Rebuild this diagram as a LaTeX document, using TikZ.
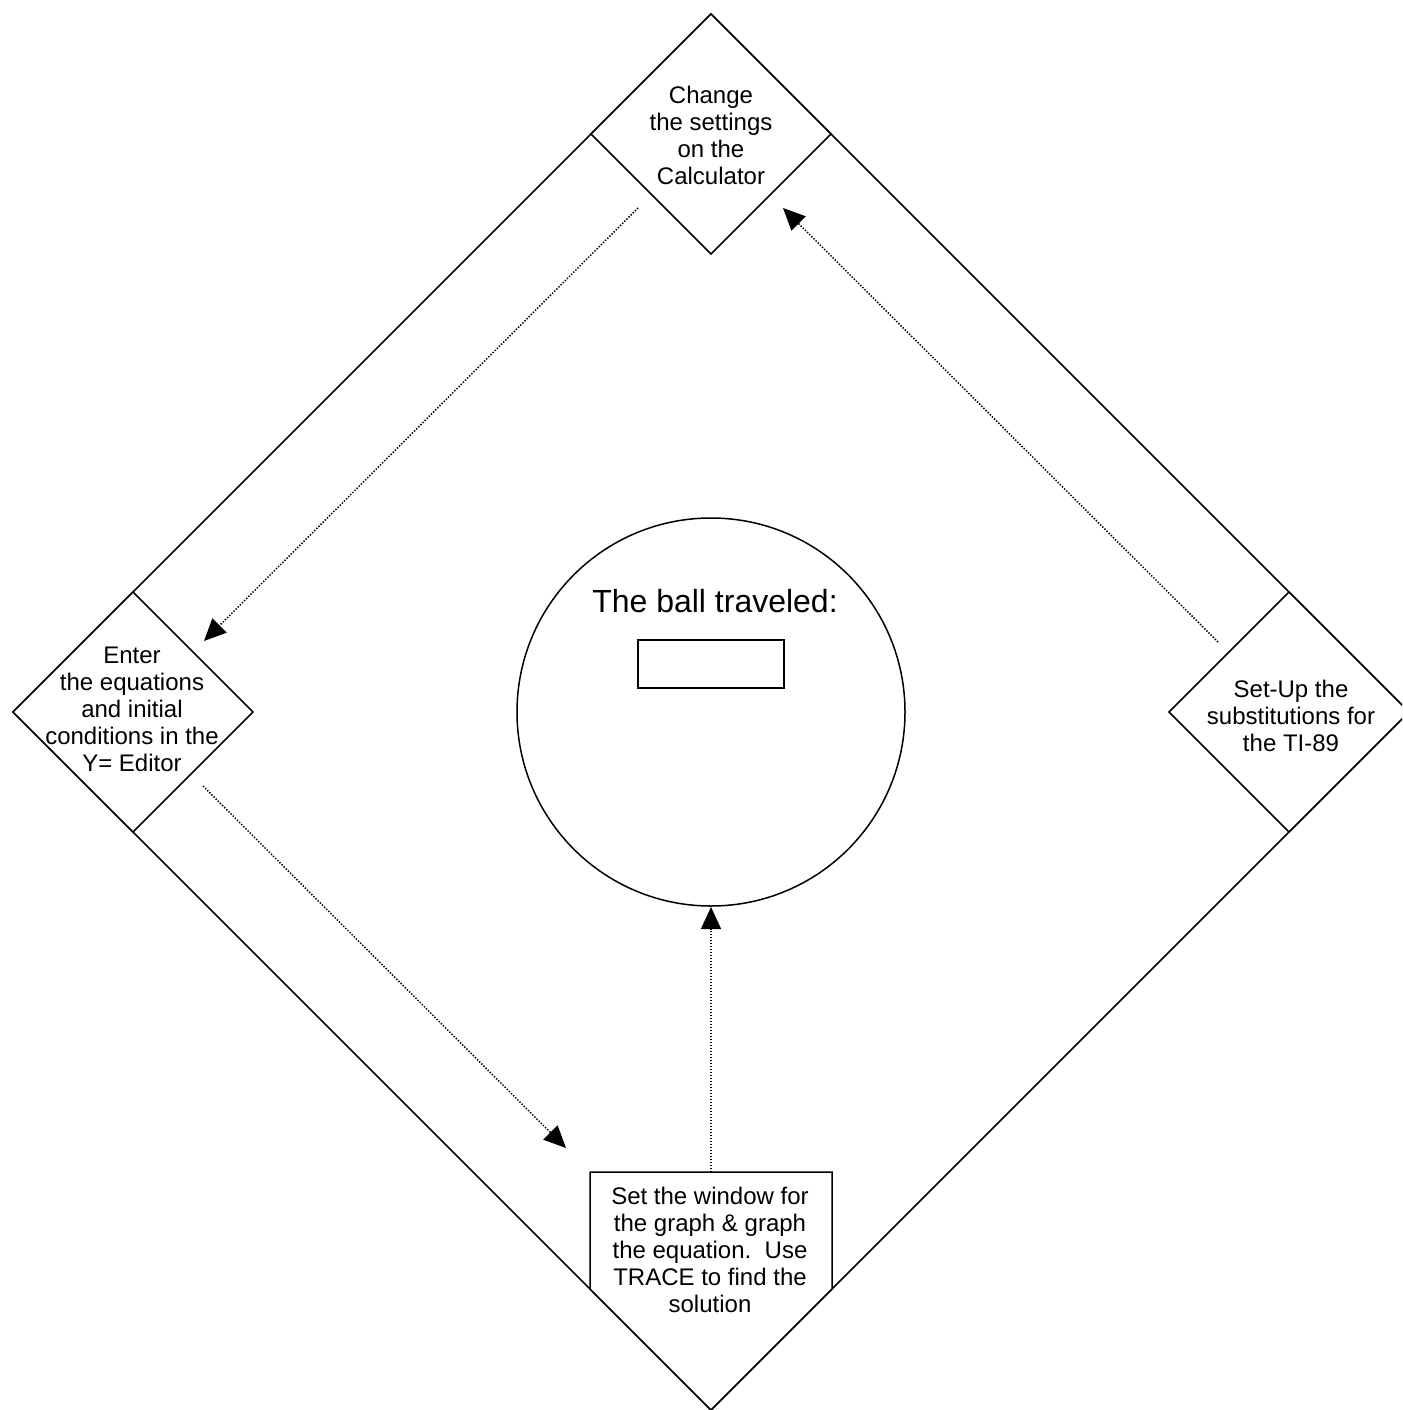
\documentclass[tikz,border=0pt]{standalone}
\usepackage{fontspec}
\setmainfont{Liberation Sans}
\usetikzlibrary{arrows.meta}
\begin{document}
\begin{tikzpicture}[x=1pt,y=-1pt,
  outline/.style={draw, line width=1.5pt, line join=miter, fill=white},
  lbl/.style={align=center, font=\fontsize{24}{27}\selectfont, inner sep=0pt},
  flow/.style={line width=1.5pt, dash pattern=on 1.4pt off 1.6pt,
    -{Triangle[length=22pt,width=20pt]}}]
\useasboundingbox (0,0) rectangle (1402,1410);
\clip (0,0) rectangle (1402,1410);
% field (big diamond)
\draw[outline, fill=none] (711,14) -- (1409,712) -- (711,1410) -- (13,712) -- cycle;
% bases
\draw[outline] (711,14) -- (831,134) -- (711,254) -- (591,134) -- cycle;
\draw[outline] (133,592) -- (253,712) -- (133,832) -- (13,712) -- cycle;
\draw[outline] (1289,592) -- (1409,712) -- (1289,832) -- (1169,712) -- cycle;
\draw[outline] (590,1172) -- (832,1172) -- (832,1289) -- (711,1410) -- (590,1289) -- cycle;
% centre circle
\draw[line width=1.5pt] (711,712) circle (194);
\draw[line width=1.2pt] (638,640) rectangle (784,688);
% labels
\node[lbl] (second) at (711,135) {Change\\the settings\\on the\\Calculator};
\node[lbl] (third) at (132,709) {Enter\\the equations\\and initial\\conditions in the\\Y= Editor};
\node[lbl] (first) at (1291,716) {Set-Up the\\substitutions for\\the TI-89};
\node[lbl] (home) at (710,1250) {Set the window for\\the graph \& graph\\the equation.~~Use\\TRACE to find the\\solution};
\node[lbl, font=\fontsize{32}{36}\selectfont] (ball) at (715,601) {The ball traveled:};
% connector ends
\coordinate (a1s) at (638,208);  \coordinate (a1e) at (204,641);
\coordinate (a2s) at (203,786);  \coordinate (a2e) at (566,1148);
\coordinate (a3s) at (711,1172); \coordinate (a3e) at (711,907);
\coordinate (a4s) at (1218,642); \coordinate (a4e) at (783,208);
\draw[flow] (a1s) -- (a1e);
\draw[flow] (a2s) -- (a2e);
\draw[flow] (a3s) -- (a3e);
\draw[flow] (a4s) -- (a4e);
\end{tikzpicture}
\end{document}
